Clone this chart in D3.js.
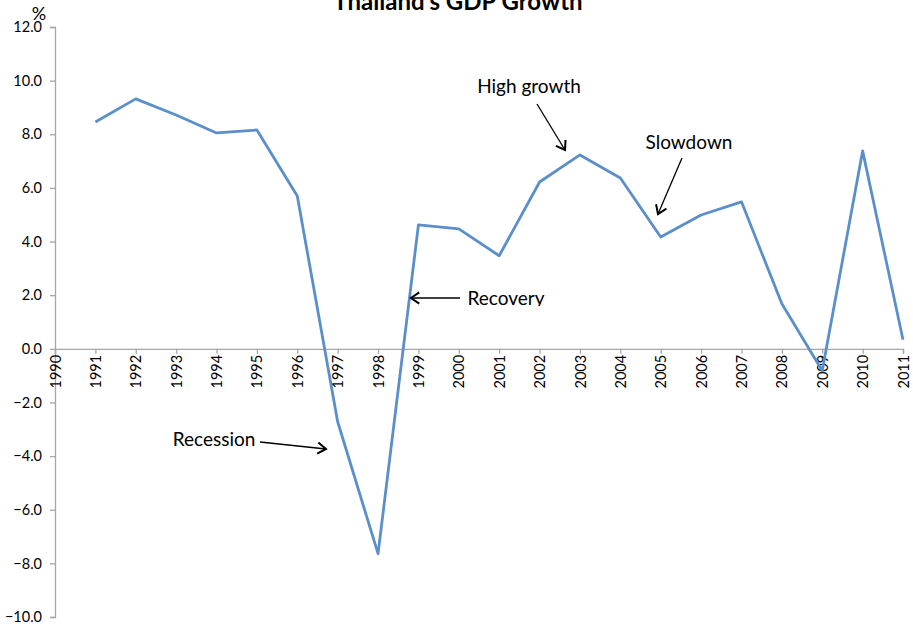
<!DOCTYPE html>
<html><head><meta charset="utf-8">
<script src="https://cdn.jsdelivr.net/npm/d3@7"></script>
<style>body{margin:0;background:#fff}svg{display:block}text{font-family:Lato,"Open Sans",sans-serif;fill:#000}</style>
</head><body><svg id="c" width="913" height="626"></svg>
<script>
const years = [1990,1991,1992,1993,1994,1995,1996,1997,1998,1999,2000,2001,2002,2003,2004,2005,2006,2007,2008,2009,2010,2011];
const dataYears = [1991,1992,1993,1994,1995,1996,1997,1998,1999,2000,2001,2002,2003,2004,2005,2006,2007,2008,2009,2010,2011];
const growth = [8.46,9.32,8.72,8.05,8.16,5.70,-2.72,-7.64,4.62,4.47,3.47,6.22,7.23,6.37,4.17,4.99,5.48,1.68,-0.82,7.38,0.34];
const yTicks = [12,10,8,6,4,2,0,-2,-4,-6,-8,-10];
const annotations = [
  {text:"High growth", tx:529, ty:93, from:[537,104], to:[565,150]},
  {text:"Slowdown", tx:689, ty:149, from:[682,158], to:[658,214]},
  {text:"Recovery", tx:506, ty:305, from:[460,298], to:[411,298]},
  {text:"Recession", tx:214, ty:446, from:[260,442], to:[326,449]}
];

const svg = d3.select("#c");
const x = d3.scaleLinear().domain([1990,2011]).range([55,903]);
const y = d3.scaleLinear().domain([-10,12]).range([617,27]);
const axisColor = "#a6a6a6";

svg.append("clipPath").attr("id","recClip").append("rect")
  .attr("x",0).attr("y",0).attr("width",913).attr("height",306);

// Y axis
const ya = svg.append("g").attr("transform","translate(55,0)")
  .call(d3.axisLeft(y).tickValues(yTicks).tickSize(5).tickPadding(8).tickFormat(d3.format(".1f")));
ya.select(".domain").attr("stroke",axisColor).attr("stroke-width",1.3);
ya.selectAll(".tick line").attr("stroke",axisColor).attr("stroke-width",1.3);
ya.selectAll("text").style("font-family","Lato,sans-serif").style("font-size","14.5px").attr("fill","#000");

// X axis at 0
const xa = svg.append("g").attr("transform",`translate(0,${y(0)})`)
  .call(d3.axisBottom(x).tickValues(years).tickSize(5).tickFormat(d3.format("d")));
xa.select(".domain").attr("stroke",axisColor).attr("stroke-width",1.3);
xa.selectAll(".tick line").attr("stroke",axisColor).attr("stroke-width",1.3);
xa.selectAll("text").style("font-family","Lato,sans-serif").style("font-size","14.5px").attr("fill","#000")
  .attr("transform","rotate(-90)").attr("text-anchor","end").attr("x",-6).attr("y",0).attr("dy","0.35em");

// Line
const line = d3.line().x((d,i)=>x(dataYears[i])).y(d=>y(d));
svg.append("path").datum(growth).attr("d",line).attr("fill","none")
  .attr("stroke","#5b8fca").attr("stroke-width",2.8).attr("stroke-linejoin","round");

// Title and unit
svg.append("text").attr("x",458).attr("y",10).attr("text-anchor","middle")
  .style("font-size","24px").style("font-weight","bold").text("Thailand's GDP Growth");
svg.append("text").attr("x",39).attr("y",20).attr("text-anchor","middle")
  .style("font-size","18px").text("%");

// Annotations
annotations.forEach(a=>{
  const t = svg.append("text").attr("x",a.tx).attr("y",a.ty).attr("text-anchor","middle")
    .style("font-size","19px").text(a.text);
  if (a.text==="Recovery") t.attr("clip-path","url(#recClip)");
  const [x1,y1]=a.from,[x2,y2]=a.to;
  svg.append("line").attr("x1",x1).attr("y1",y1).attr("x2",x2).attr("y2",y2)
    .attr("stroke","#000").attr("stroke-width",1.3);
  const ang=Math.atan2(y2-y1,x2-x1), L=10, s=0.6;
  const p1=[x2-L*Math.cos(ang-s), y2-L*Math.sin(ang-s)];
  const p2=[x2-L*Math.cos(ang+s), y2-L*Math.sin(ang+s)];
  svg.append("path").attr("d",`M${p1}L${x2},${y2}L${p2}`).attr("fill","none")
    .attr("stroke","#000").attr("stroke-width",2).attr("stroke-linejoin","miter");
});
</script></body></html>
